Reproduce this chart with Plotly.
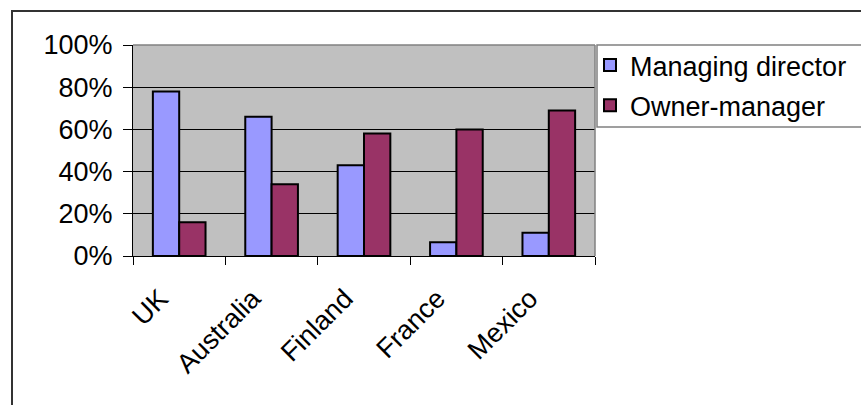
import plotly.graph_objects as go

categories = ["UK", "Australia", "Finland", "France", "Mexico"]
managing_director = [78, 66, 43, 6.5, 11]
owner_manager = [16, 34, 58, 60, 69]
y_ticks = [0, 20, 40, 60, 80, 100]
y_tick_labels = ["0%", "20%", "40%", "60%", "80%", "100%"]

W, H = 861, 405
L, R, T, B = 133, 595, 45, 256
pw, ph = R - L, B - T

FONT = "Arial, Liberation Sans, sans-serif"

fig = go.Figure()
fig.add_trace(go.Bar(
    x=categories, y=managing_director, name="Managing director",
    legendgroup="a",
    marker=dict(color="#9999FF", line=dict(color="#000000", width=2)),
))
fig.add_trace(go.Bar(
    x=categories, y=owner_manager, name="Owner-manager",
    legendgroup="b",
    marker=dict(color="#993366", line=dict(color="#000000", width=2)),
))

# outer chart border (extends beyond window on right/bottom)
fig.add_shape(type="rect", xref="paper", yref="paper",
              x0=(12 - L) / pw, x1=(W + 20 - L) / pw,
              y0=(B - (H + 20)) / ph, y1=(B - 11) / ph,
              line=dict(color="#333333", width=2), fillcolor="rgba(0,0,0,0)")
# plot area top / right gray border
fig.add_shape(type="line", xref="paper", yref="paper", x0=0, x1=1, y0=1, y1=1,
              line=dict(color="#808080", width=1.5))
fig.add_shape(type="line", xref="paper", yref="paper", x0=1, x1=1, y0=0, y1=1,
              line=dict(color="#808080", width=1.5))
# legend frame (runs off the right edge like the reference)
fig.add_shape(type="rect", xref="paper", yref="paper",
              x0=(597 - L) / pw, x1=(W + 20 - L) / pw,
              y0=(B - 127) / ph, y1=1.0,
              line=dict(color="#808080", width=1.5), fillcolor="white", layer="below")

fig.update_layout(
    width=W, height=H,
    margin=dict(l=L, r=W - R, t=T, b=H - B, pad=0, autoexpand=False),
    paper_bgcolor="white",
    plot_bgcolor="#C0C0C0",
    barmode="group",
    bargap=0.43,
    bargroupgap=0,
    font=dict(family=FONT, size=27, color="black"),
    showlegend=True,
    legend=dict(
        x=(597 - L) / pw, y=1.0 + 4 / ph, xanchor="left", yanchor="top",
        borderwidth=0, bgcolor="rgba(0,0,0,0)",
        font=dict(family=FONT, size=27, color="black"),
        traceorder="grouped", tracegroupgap=2,
        itemwidth=30, indentation=-7,
    ),
    xaxis=dict(
        type="category", tickangle=-45, showline=True, linecolor="black", linewidth=1,
        ticks="outside", tickson="boundaries", ticklen=8, tickcolor="black",
        showgrid=False, tickfont=dict(size=27), ticklabelshift=-19,
        ticklabelstandoff=15, automargin=False,
    ),
    yaxis=dict(
        range=[0, 100], tickvals=y_ticks, ticktext=y_tick_labels,
        showline=True, linecolor="black", linewidth=1,
        ticks="outside", ticklen=9, tickcolor="black",
        showgrid=True, gridcolor="black", gridwidth=1,
        zeroline=False, tickfont=dict(size=27), ticklabelstandoff=5, automargin=False,
    ),
)

fig.write_html("out.html")
